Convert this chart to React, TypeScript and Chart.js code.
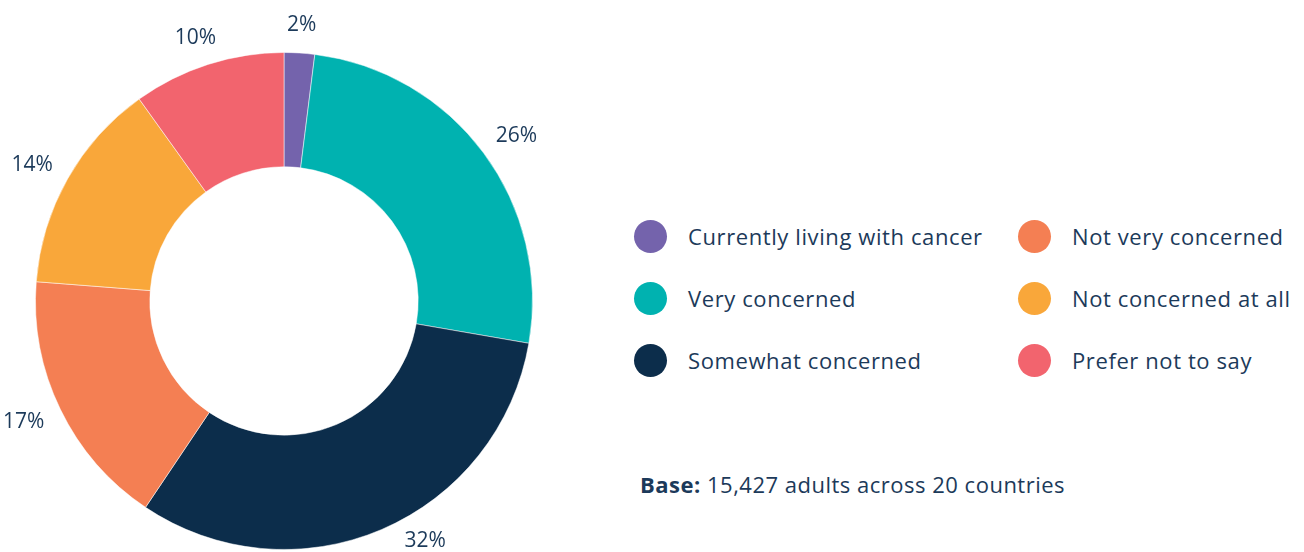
import React, { useEffect, useRef } from "react";
import { Chart, registerables } from "chart.js";

Chart.register(...registerables);

const categories = [
  "Currently living with cancer",
  "Very concerned",
  "Somewhat concerned",
  "Not very concerned",
  "Not concerned at all",
  "Prefer not to say",
];
const values = [2, 26, 32, 17, 14, 10];
const valueLabels = ["2%", "26%", "32%", "17%", "14%", "10%"];
const colors = ["#7463AC", "#00B2B0", "#0C2D4B", "#F47F53", "#F9A73A", "#F2646E"];
const legendLeft = [0, 1, 2];
const legendRight = [3, 4, 5];
const baseBold = "Base:";
const baseText = " 15,427 adults across 20 countries";

const TEXT = "#1c3a5a";
const FONT = "'Open Sans', Lato, sans-serif";

const outsideLabels = {
  id: "outsideLabels",
  afterDatasetsDraw(chart: any) {
    const ctx = chart.ctx;
    const meta = chart.getDatasetMeta(0);
    const h = 16;
    const maxY = chart.height - 11;
    ctx.save();
    ctx.fillStyle = TEXT;
    ctx.font = `21px ${FONT}`;
    ctx.textAlign = "center";
    ctx.textBaseline = "middle";
    meta.data.forEach((arc: any, i: number) => {
      const p = arc.getProps(["x", "y", "startAngle", "endAngle", "outerRadius"], true);
      const mid = (p.startAngle + p.endAngle) / 2;
      const r = p.outerRadius + 20;
      const w = ctx.measureText(valueLabels[i]).width;
      let dx = Math.cos(mid) * r + (w / 2) * Math.cos(mid);
      let dy = Math.sin(mid) * r + (h / 2) * Math.sin(mid);
      if (p.y + dy > maxY) {
        const dist = Math.sqrt(dx * dx + dy * dy);
        dy = maxY - p.y;
        dx = Math.sign(dx) * Math.sqrt(Math.max(0, dist * dist - dy * dy));
      }
      ctx.fillText(valueLabels[i], p.x + dx, p.y + dy);
    });
    ctx.restore();
  },
};

function LegendItem({ idx }: { idx: number }) {
  return (
    <div style={{ display: "flex", alignItems: "center", height: 62 }}>
      <div
        style={{
          width: 33,
          height: 33,
          borderRadius: "50%",
          background: colors[idx],
          marginRight: 21,
          flexShrink: 0,
        }}
      />
      <span
        style={{
          fontSize: 22,
          color: TEXT,
          fontFamily: FONT,
          whiteSpace: "nowrap",
          letterSpacing: 0.6,
        }}
      >
        {categories[idx]}
      </span>
    </div>
  );
}

export default function App() {
  const ref = useRef<HTMLCanvasElement>(null);
  useEffect(() => {
    if (!ref.current) return;
    const chart = new Chart(ref.current, {
      type: "doughnut",
      data: {
        labels: categories,
        datasets: [
          {
            data: values,
            backgroundColor: colors,
            borderColor: "rgba(255,255,255,0.5)",
            borderWidth: 1,
          },
        ],
      },
      options: {
        animation: false,
        responsive: false,
        maintainAspectRatio: false,
        cutout: "54%",
        layout: { padding: { top: 51, bottom: 1, left: 35, right: 35 } },
        plugins: {
          legend: { display: false },
          tooltip: { enabled: false },
        },
      },
      plugins: [outsideLabels],
    });
    return () => chart.destroy();
  }, []);

  return (
    <div
      style={{
        position: "fixed",
        left: 0,
        top: 0,
        width: 1304,
        height: 552,
        background: "#fff",
        overflow: "hidden",
      }}
    >
      <canvas
        ref={ref}
        width={568}
        height={552}
        style={{ position: "absolute", left: 0, top: 0, width: 568, height: 552 }}
      />
      <div style={{ position: "absolute", left: 634, top: 205 }}>
        {legendLeft.map((i) => (
          <LegendItem key={i} idx={i} />
        ))}
      </div>
      <div style={{ position: "absolute", left: 1018, top: 205 }}>
        {legendRight.map((i) => (
          <LegendItem key={i} idx={i} />
        ))}
      </div>
      <div
        style={{
          position: "absolute",
          left: 640,
          top: 470,
          fontSize: 22,
          lineHeight: "28px",
          color: TEXT,
          fontFamily: FONT,
          whiteSpace: "nowrap",
          letterSpacing: 0.5,
        }}
      >
        <b>{baseBold}</b>
        {baseText}
      </div>
    </div>
  );
}
